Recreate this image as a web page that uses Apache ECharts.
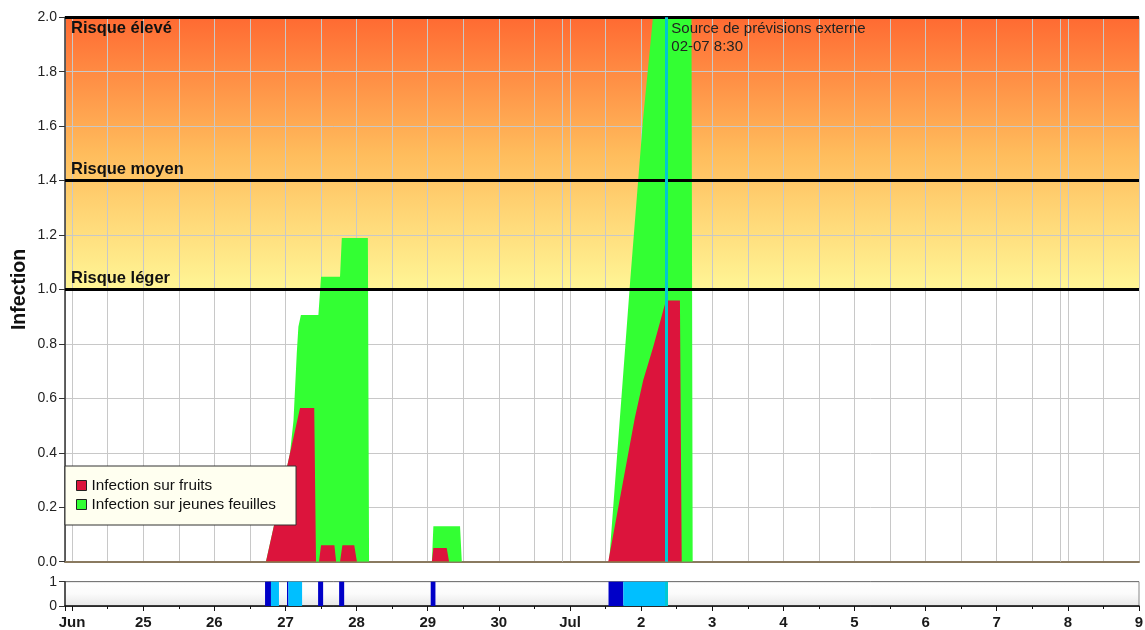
<!DOCTYPE html>
<html>
<head>
<meta charset="utf-8">
<title>Infection</title>
<script src="https://cdn.jsdelivr.net/npm/echarts@6/dist/echarts.min.js"></script>
<style>
  html, body { margin: 0; padding: 0; background: #fff; }
  #chart { width: 1145px; height: 630px; }
</style>
</head>
<body>
<div id="chart"></div>
<script>
  // x values are hours counted from Jun 24 00:00
  const dayLabels = ['Jun', '25', '26', '27', '28', '29', '30', 'Jul', '2', '3', '4', '5', '6', '7', '8', '9'];

  const fruitPoints = [
    [65.4, 0], [76.9, 0.565], [81.7, 0.565], [82.3, 0],
    [83.3, 0], [84.0, 0.06], [88.5, 0.06], [89.1, 0],
    [90.4, 0], [91.2, 0.06], [95.2, 0.06], [96.1, 0],
    [121.4, 0], [121.9, 0.05], [126.4, 0.05], [127.2, 0],
    [180.9, 0], [189.9, 0.53], [192.7, 0.667], [196.1, 0.79], [199.5, 0.925],
    [200.4, 0.96], [205.1, 0.96], [205.7, 0]
  ];

  const leafPoints = [
    [65.4, 0], [73.0, 0.372], [73.5, 0.397], [74.7, 0.519], [75.8, 0.765],
    [76.35, 0.863], [77.2, 0.906], [83.1, 0.906], [84.0, 1.047], [90.4, 1.047],
    [91.0, 1.189], [99.8, 1.189], [100.2, 0],
    [121.4, 0], [121.9, 0.13], [130.9, 0.13], [131.5, 0],
    [181.2, 0], [188.3, 1.03], [192.6, 1.62], [194.3, 1.81], [196.0, 2.0],
    [209.0, 2.0], [209.4, 0]
  ];

  // wetness strip under the chart
  const wetDarkBands = [[65.1, 67.1], [72.5, 73.0], [83.0, 84.7], [90.1, 91.8], [121.0, 122.6], [181.0, 186.0]];
  const wetLightBands = [[67.1, 69.8], [73.0, 77.6], [186.0, 200.5]];

  const forecastHour = 200.5;
  const forecastText = 'Source de prévisions externe\n02-07 8:30';
  const riskLevels = [1.0, 1.4, 2.0];
  const riskNames = ['Risque léger', 'Risque moyen', 'Risque élevé'];
  const extraGridHours = [165.3, 333.3];

  const font = '"Liberation Sans", Arial, sans-serif';
  const gridColor = '#c8c8c8';
  const chart = echarts.init(document.getElementById('chart'));

  function bandRenderer (color) {
    return function (params, api) {
      const a = api.coord([api.value(0), 1]);
      const b = api.coord([api.value(1), 0]);
      return {
        type: 'rect',
        shape: { x: a[0], y: a[1], width: b[0] - a[0], height: b[1] - a[1] },
        style: { fill: color }
      };
    };
  }

  const riskLines = riskLevels.map((v, i) => ({
    yAxis: v,
    label: {
      show: true,
      formatter: riskNames[i],
      position: v === 2.0 ? 'insideStartBottom' : 'insideStartTop',
      distance: [6, 3],
      fontWeight: 'bold',
      fontSize: 16.5,
      color: '#111',
      fontFamily: font
    }
  }));

  const extraLines = extraGridHours.map(h => ({
    xAxis: h,
    lineStyle: { color: gridColor, width: 1 },
    label: { show: false }
  }));

  const option = {
    animation: false,
    textStyle: { fontFamily: font },
    grid: [{
      left: 65, right: 6, top: 17.3, height: 544.4,
      outerBoundsMode: 'none', containLabel: false,
      show: true, borderWidth: 0,
      backgroundColor: new echarts.graphic.LinearGradient(0, 0, 0, 1, [
        { offset: 0, color: '#ff6a32' },
        { offset: 0.25, color: '#ffbc5c' },
        { offset: 0.5, color: '#fff696' },
        { offset: 0.5, color: '#ffffff' },
        { offset: 1, color: '#ffffff' }
      ])
    }, {
      left: 65, right: 6, top: 581.7, height: 24.3,
      outerBoundsMode: 'none', containLabel: false,
      show: true, borderColor: '#888', borderWidth: 1,
      backgroundColor: new echarts.graphic.LinearGradient(0, 0, 0, 1, [
        { offset: 0, color: '#ffffff' },
        { offset: 0.5, color: '#fbfbfb' },
        { offset: 1, color: '#e6e6e6' }
      ])
    }],
    legend: {
      data: ['Infection sur fruits', 'Infection sur jeunes feuilles'],
      orient: 'vertical',
      left: 65,
      top: 466,
      icon: 'rect',
      itemWidth: 10,
      itemHeight: 10,
      itemGap: 4,
      padding: [12, 20, 13, 11],
      backgroundColor: '#fffff0',
      borderColor: '#333',
      borderWidth: 1,
      itemStyle: { borderColor: '#222', borderWidth: 1 },
      textStyle: { fontSize: 15.3, color: '#111', fontFamily: font }
    },
    xAxis: [{
      gridIndex: 0, type: 'value', min: -2.4, max: 360, minInterval: 12, maxInterval: 12,
      axisLabel: { show: false },
      axisTick: { show: false },
      axisLine: { onZero: false, lineStyle: { color: '#8a7a60', width: 2 } },
      splitLine: { lineStyle: { color: gridColor } }
    }, {
      gridIndex: 1, type: 'value', position: 'bottom',
      min: -2.4, max: 360, minInterval: 24, maxInterval: 24,
      axisLine: { onZero: false, lineStyle: { color: '#111', width: 1.5 } },
      axisTick: { length: 5, lineStyle: { color: '#111' } },
      splitLine: { show: false },
      axisLabel: {
        margin: 9, fontWeight: 'bold', fontSize: 15, color: '#1a1a1a',
        formatter: v => (v >= 0 && v % 24 === 0) ? dayLabels[v / 24] : ''
      }
    }, {
      gridIndex: 1, type: 'value', position: 'bottom',
      min: -2.4, max: 360, minInterval: 12, maxInterval: 12,
      axisLine: { show: false, onZero: false },
      axisLabel: { show: false },
      axisTick: { length: 3, lineStyle: { color: '#111' } },
      splitLine: { show: false }
    }],
    yAxis: [{
      gridIndex: 0, type: 'value', min: 0, max: 2, interval: 0.2,
      name: 'Infection', nameLocation: 'middle', nameGap: 35, nameMoveOverlap: false,
      nameTextStyle: { fontWeight: 'bold', fontSize: 19.5, color: '#111' },
      axisLine: { show: true, onZero: false, lineStyle: { color: '#333', width: 1.5 } },
      axisTick: { show: true, length: 6, lineStyle: { color: '#333' } },
      axisLabel: { margin: 8, fontSize: 14, color: '#222', formatter: v => v.toFixed(1) },
      splitLine: { lineStyle: { color: gridColor } }
    }, {
      gridIndex: 1, type: 'value', min: 0, max: 1, interval: 1,
      axisLine: { show: true, onZero: false, lineStyle: { color: '#333', width: 1.5 } },
      axisTick: { show: true, length: 6, lineStyle: { color: '#333' } },
      axisLabel: { margin: 8, fontSize: 14, color: '#222' },
      splitLine: { show: true, lineStyle: { color: '#777' } }
    }],
    series: [{
      name: 'Infection sur jeunes feuilles',
      type: 'line', xAxisIndex: 0, yAxisIndex: 0,
      data: leafPoints, symbol: 'none',
      lineStyle: { width: 0 },
      itemStyle: { color: '#33ff33' },
      areaStyle: { color: '#33ff33', opacity: 1 },
      z: 2
    }, {
      name: 'Infection sur fruits',
      type: 'line', xAxisIndex: 0, yAxisIndex: 0,
      data: fruitPoints, symbol: 'none',
      lineStyle: { width: 0 },
      itemStyle: { color: '#dc143c' },
      areaStyle: { color: '#dc143c', opacity: 1 },
      z: 3
    }, {
      name: 'risk',
      type: 'line', xAxisIndex: 0, yAxisIndex: 0,
      data: [],
      markLine: {
        silent: true,
        symbol: ['none', 'none'],
        lineStyle: { color: '#000', width: 3, type: 'solid' },
        data: extraLines.concat(riskLines, [{
          xAxis: forecastHour,
          lineStyle: { color: '#00c8d2', width: 3, type: 'solid' },
          label: { show: false }
        }])
      },
      markPoint: {
        silent: true,
        symbol: 'rect',
        symbolSize: 0,
        data: [{ coord: [forecastHour, 2.0] }],
        label: {
          show: true,
          position: [5, 3],
          align: 'left',
          verticalAlign: 'top',
          formatter: forecastText,
          fontSize: 15,
          lineHeight: 18,
          color: '#222',
          fontFamily: font
        }
      }
    }, {
      name: 'wetDark',
      type: 'custom', xAxisIndex: 1, yAxisIndex: 1,
      data: wetDarkBands,
      encode: { x: [0, 1] },
      renderItem: bandRenderer('#0000c8')
    }, {
      name: 'wetLight',
      type: 'custom', xAxisIndex: 1, yAxisIndex: 1,
      data: wetLightBands,
      encode: { x: [0, 1] },
      renderItem: bandRenderer('#00bfff')
    }, {
      name: 'forecastStrip',
      type: 'line', xAxisIndex: 1, yAxisIndex: 1,
      data: [],
      markLine: {
        silent: true,
        symbol: ['none', 'none'],
        label: { show: false },
        lineStyle: { color: '#00c8d2', width: 3, type: 'solid' },
        data: [{ xAxis: forecastHour }]
      }
    }]
  };

  chart.setOption(option);
  window.addEventListener('resize', () => chart.resize());
</script>
</body>
</html>
